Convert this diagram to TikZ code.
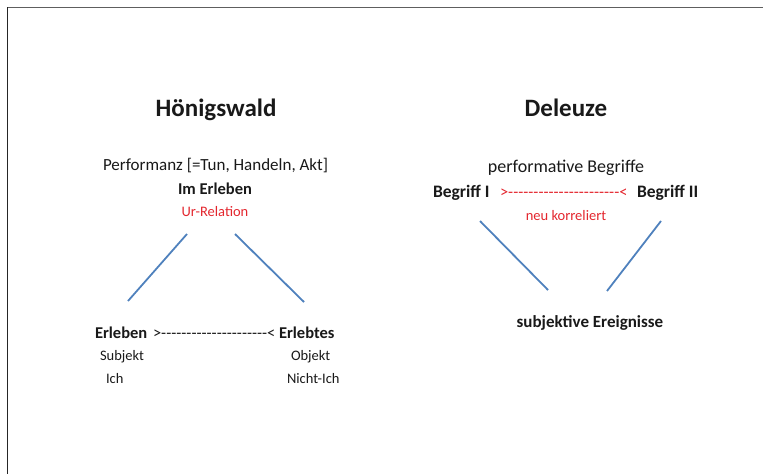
\documentclass[tikz,border=0pt]{standalone}
\usepackage{fontspec}
\setmainfont{Carlito}[Ligatures=TeXOff]
\definecolor{linkblue}{HTML}{4F81BD}
\definecolor{relred}{HTML}{E3262E}
\definecolor{framegray}{HTML}{5E5E5E}
\begin{document}
\begin{tikzpicture}[x=1pt,y=-1pt,
  txt/.style={inner sep=0pt,outer sep=0pt,text=black!90},
  title/.style={txt,font=\fontsize{25}{30}\selectfont\bfseries},
  label/.style={txt,font=\fontsize{17}{20}\selectfont},
  strong/.style={txt,font=\fontsize{16.5}{20}\selectfont\bfseries},
  small/.style={txt,font=\fontsize{14.5}{18}\selectfont},
  note/.style={txt,font=\fontsize{14.5}{18}\selectfont,text=relred},
  link/.style={draw=linkblue,line width=1.8pt}]
\useasboundingbox (0,0) rectangle (763,474);
% page frame (top and left edges only)
\draw[framegray,line width=1.4pt] (7.5,7.3) -- (763,7.3);
\draw[black!85,line width=1.3pt] (7.6,7.3) -- (7.6,474);

% ---- Hönigswald ----
\node[title,anchor=base] (hTitle) at (216,116) {Hönigswald};
\node[label,anchor=base] (hPerf) at (215.5,170.5) {Performanz [=Tun, Handeln, Akt]};
\node[strong,anchor=base] (hIm) at (215,194) {Im Erleben};
\node[note,anchor=base] (hUr) at (215,216.5) {Ur-Relation};

\coordinate (hL1) at (187,234);
\coordinate (hL2) at (128,301);
\coordinate (hR1) at (235,234);
\coordinate (hR2) at (304,302);
\draw[link] (hL1) -- (hL2);
\draw[link] (hR1) -- (hR2);

\node[strong,anchor=base west] (hErl) at (95,338) {Erleben};
\node[label,anchor=base west,font=\fontsize{16.5}{20}\selectfont] (hRel) at (153,338)
  {>---------------------<};
\node[strong,anchor=base west] (hErt) at (279,338) {Erlebtes};
\node[small,anchor=base west] (hSub) at (100,360) {Subjekt};
\node[small,anchor=base west] (hIch) at (106,383) {Ich};
\node[small,anchor=base west] (hObj) at (291,360) {Objekt};
\node[small,anchor=base west] (hNich) at (287,383) {Nicht-Ich};

% ---- Deleuze ----
\node[title,anchor=base] (dTitle) at (566,116) {Deleuze};
\node[label,anchor=base,font=\fontsize{18}{22}\selectfont] (dPerf) at (566,172) {performative Begriffe};
\node[strong,anchor=base west,font=\fontsize{17.5}{21}\selectfont\bfseries] (dB1) at (433,197) {Begriff I};
\node[label,anchor=base west,text=relred,font=\fontsize{16.5}{20}\selectfont] (dRel) at (500,197)
  {>----------------------<};
\node[strong,anchor=base west,font=\fontsize{17.5}{21}\selectfont\bfseries] (dB2) at (637,197) {Begriff II};
\node[note,anchor=base] (dNeu) at (566,220) {neu korreliert};

\coordinate (dL1) at (480,221);
\coordinate (dL2) at (548,290);
\coordinate (dR1) at (661,221);
\coordinate (dR2) at (607,291);
\draw[link] (dL1) -- (dL2);
\draw[link] (dR1) -- (dR2);

\node[strong,anchor=base,font=\fontsize{17}{21}\selectfont\bfseries] (dSub) at (590,327.5) {subjektive Ereignisse};
\end{tikzpicture}
\end{document}
